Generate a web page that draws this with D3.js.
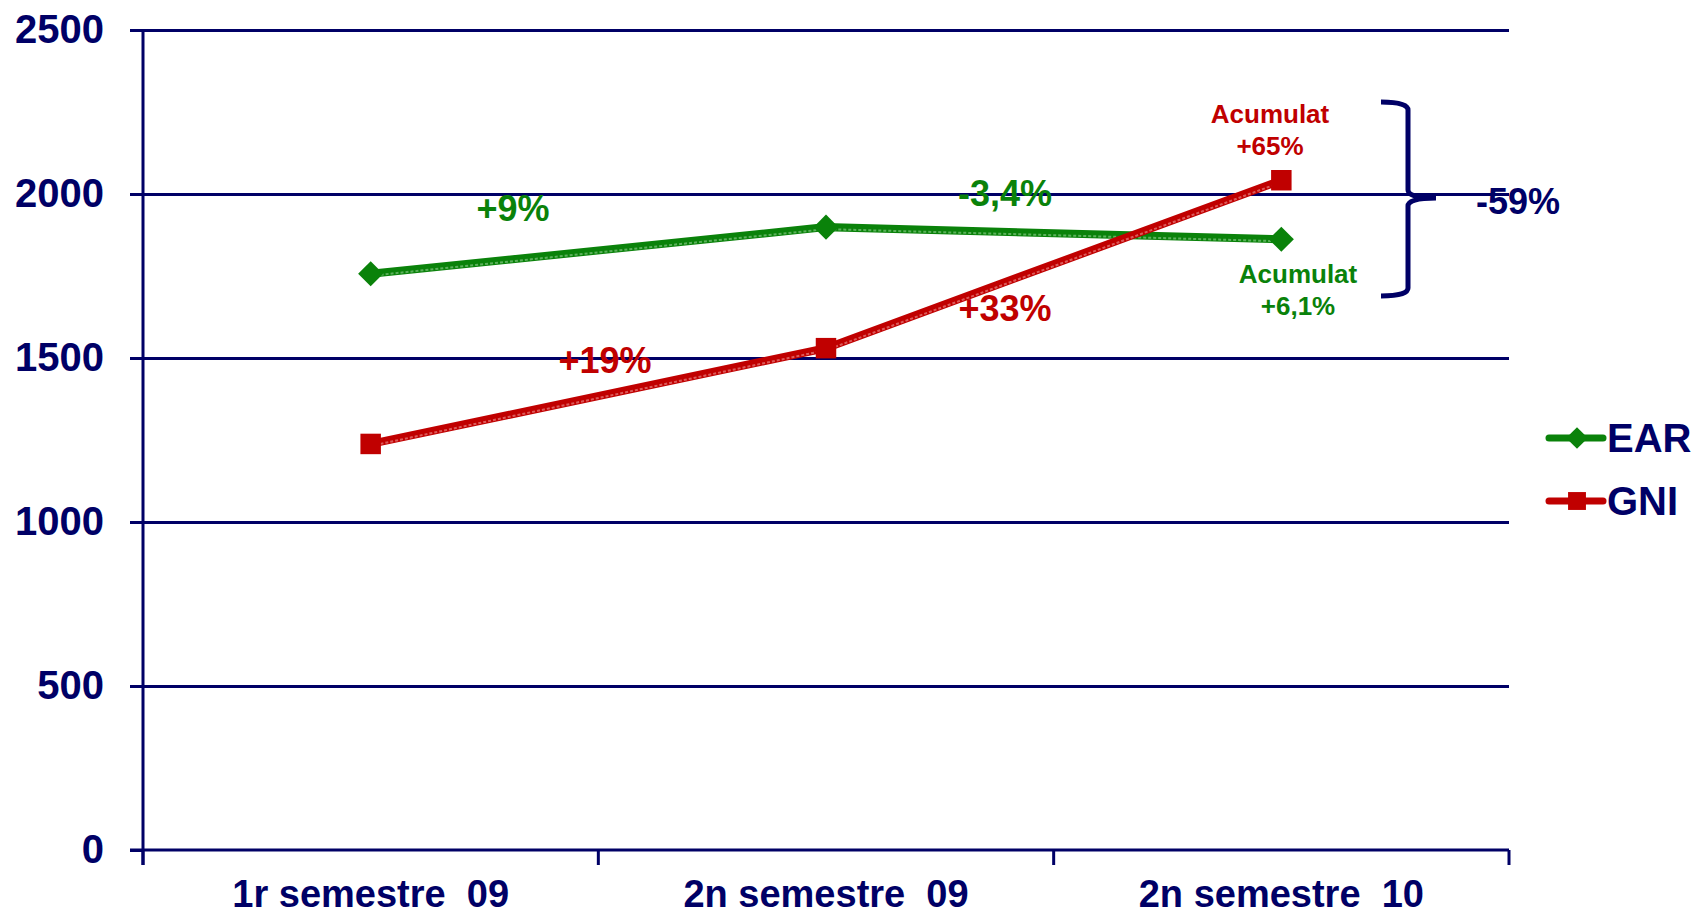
<!DOCTYPE html>
<html>
<head>
<meta charset="utf-8">
<script src="https://cdn.jsdelivr.net/npm/d3@7"></script>
<style>
  body { margin: 0; background: #fff; }
  text { font-family: "Liberation Sans", Arial, sans-serif; font-weight: bold; }
</style>
</head>
<body>
<svg id="chart"></svg>
<script>
// data
const categories = ["1r semestre\u00a0\u00a009", "2n semestre\u00a0\u00a009", "2n semestre\u00a0\u00a010"];
const earValues = [1757, 1899, 1862];
const gniValues = [1238, 1530, 2042];
const yTicks = [0, 500, 1000, 1500, 2000, 2500];
const seriesNames = ["EAR", "GNI"];

const W = 1698, H = 921;
const margin = { top: 30, right: 189, bottom: 71, left: 143 };
const navy = "#000066", green = "#0a820a", red = "#c00000";

const svg = d3.select("#chart").attr("width", W).attr("height", H);

const x = d3.scaleBand().domain(d3.range(categories.length))
  .range([margin.left, W - margin.right]).padding(0);
const y = d3.scaleLinear().domain([0, 2500]).range([H - margin.bottom, margin.top]);

// grid lines
svg.append("g")
  .attr("transform", `translate(${margin.left},0)`)
  .call(d3.axisLeft(y).tickValues(yTicks.slice(1)).tickSize(-(W - margin.right - margin.left)).tickFormat(""))
  .call(g => g.select(".domain").remove())
  .call(g => g.selectAll("line").attr("stroke", navy).attr("stroke-width", 3));

// y axis
svg.append("g")
  .attr("transform", `translate(${margin.left},0)`)
  .call(d3.axisLeft(y).tickValues(yTicks).tickFormat(d3.format("d")).tickSize(13).tickSizeOuter(0).tickPadding(26))
  .call(g => g.select(".domain").remove())
  .call(g => g.selectAll("line").attr("stroke", navy).attr("stroke-width", 3))
  .call(g => g.selectAll("text").attr("fill", navy).style("font-size", "40px"));

// x axis
const xAxis = svg.append("g")
  .attr("transform", `translate(0,${y(0)})`)
  .call(d3.axisBottom(x).tickFormat(i => categories[i]).tickSize(0).tickPadding(30))
  .call(g => g.select(".domain").remove())
  .call(g => g.selectAll("text").attr("fill", navy).style("font-size", "38px"));

const xTicks = [0, 1, 2].map(i => x(i)).concat([x(2) + x.bandwidth()]);
xAxis.selectAll(".xtick").data(xTicks).join("line")
  .attr("x1", d => d).attr("x2", d => d)
  .attr("y1", 0).attr("y2", 15)
  .attr("stroke", navy).attr("stroke-width", 3);

// axis lines
svg.append("line")
  .attr("x1", margin.left).attr("x2", margin.left)
  .attr("y1", y(2500)).attr("y2", y(0) + 15)
  .attr("stroke", navy).attr("stroke-width", 3);
svg.append("line")
  .attr("x1", margin.left - 13).attr("x2", W - margin.right)
  .attr("y1", y(0)).attr("y2", y(0))
  .attr("stroke", navy).attr("stroke-width", 3);

const cx = i => x(i) + x.bandwidth() / 2;
const line = d3.line().x((d, i) => cx(i)).y(d => y(d));

function drawSeries(vals, color, light, marker) {
  svg.append("path").datum(vals).attr("d", line)
    .attr("fill", "none").attr("stroke", color).attr("stroke-width", 8);
  svg.append("path").datum(vals).attr("d", line)
    .attr("transform", "translate(0,2)")
    .attr("fill", "none").attr("stroke", light).attr("stroke-width", 2)
    .attr("stroke-dasharray", "3,2").attr("opacity", 0.7);
  svg.append("g").selectAll("path").data(vals).join("path")
    .attr("transform", (d, i) => `translate(${cx(i)},${y(d)})`)
    .attr("d", d3.symbol().type(marker).size(marker === d3.symbolSquare ? 420 : 400))
    .attr("fill", color);
}
drawSeries(earValues, green, "#7fc47f", d3.symbolDiamond2);
drawSeries(gniValues, red, "#e88080", d3.symbolSquare);

// annotations
const notes = [
  { t: "+9%", x: 513, y: 208, c: green, s: 36 },
  { t: "-3,4%", x: 1005, y: 193, c: green, s: 36 },
  { t: "+19%", x: 605, y: 360, c: red, s: 36 },
  { t: "+33%", x: 1005, y: 308, c: red, s: 36 },
  { t: "Acumulat", x: 1270, y: 114, c: red, s: 26 },
  { t: "+65%", x: 1270, y: 146, c: red, s: 26 },
  { t: "Acumulat", x: 1298, y: 274, c: green, s: 26 },
  { t: "+6,1%", x: 1298, y: 306, c: green, s: 26 },
  { t: "-59%", x: 1518, y: 201, c: navy, s: 36 }
];
svg.append("g").selectAll("text").data(notes).join("text")
  .attr("x", d => d.x).attr("y", d => d.y)
  .attr("text-anchor", "middle").attr("dominant-baseline", "central")
  .attr("fill", d => d.c).style("font-size", d => d.s + "px")
  .text(d => d.t);

// bracket
svg.append("path")
  .attr("d", "M1381,102 Q1408,102 1408,110 L1408,190 Q1408,198 1436,198 Q1408,198 1408,206 L1408,288 Q1408,296 1381,296")
  .attr("fill", "none").attr("stroke", navy).attr("stroke-width", 5);

// legend
const legend = svg.append("g").selectAll("g").data(seriesNames).join("g")
  .attr("transform", (d, i) => `translate(1549,${438 + i * 63})`);
legend.append("line").attr("x1", 0).attr("x2", 54)
  .attr("stroke", (d, i) => i ? red : green).attr("stroke-width", 7).attr("stroke-linecap", "round");
legend.append("path").attr("transform", "translate(28,0)")
  .attr("d", (d, i) => d3.symbol().type(i ? d3.symbolSquare : d3.symbolDiamond2).size(i ? 320 : 300)())
  .attr("fill", (d, i) => i ? red : green);
legend.append("text").attr("x", 58).attr("dominant-baseline", "central")
  .attr("fill", navy).style("font-size", "40px").text(d => d);
</script>
</body>
</html>
